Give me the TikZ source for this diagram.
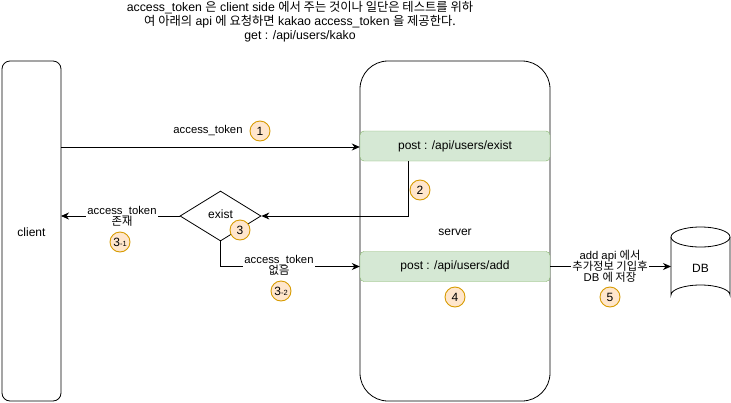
\documentclass[tikz,border=0pt]{standalone}
\usepackage{fontspec}
\setmainfont{Liberation Sans}
\newfontfamily\kr{Noto Sans CJK KR}
\usetikzlibrary{shapes.geometric,arrows.meta}
\definecolor{greenfill}{HTML}{D5E8D4}
\definecolor{greenline}{HTML}{82B366}
\definecolor{stepfill}{HTML}{FFE6CC}
\definecolor{stepline}{HTML}{D79B00}
\tikzset{
  lbl/.style={font=\fontsize{11.3}{12.5}\selectfont, align=center, inner sep=1pt},
  big/.style={font=\fontsize{12}{14}\selectfont},
  bg/.style={fill=white},
  api/.style={draw=greenline, fill=greenfill, rounded corners=4pt, minimum width=190pt, minimum height=30pt, font=\fontsize{12}{14}\selectfont, inner sep=0pt},
  stepno/.style={circle, draw=stepline, fill=stepfill, line width=0.9pt, minimum size=20pt, inner sep=0pt, font=\fontsize{12}{14}\selectfont},
  flow/.style={line width=0.8pt, -{Stealth[length=8pt,width=7pt]}},
}
\begin{document}
\begin{tikzpicture}[x=1pt,y=-1pt]
\useasboundingbox (0,0) rectangle (731,402);

% header note
\node[lbl, font=\fontsize{12.3}{14}\selectfont] (note) at (300,21.5)
  {access\_token {\kr 은} client side {\kr 에서 주는 것이나 일단은 테스트를 위하}\\
   {\kr 여 아래의} api {\kr 에 요청하면} kakao access\_token {\kr 을 제공한다.}\\
   get : /api/users/kako};

% participants
\draw[line width=0.8pt, rounded corners=8pt] (2,61) rectangle (61,401);
\node[lbl, big] (client) at (31.5,232) {client};
\coordinate (clientR1) at (61,147);
\coordinate (clientR2) at (61,216);

\draw[line width=0.8pt, rounded corners=28pt] (360,61) rectangle (550,401);
\node[lbl, big] (server) at (455,232) {server};

\node[api] (exist) at (455,146) {post : /api/users/exist};
\node[api] (add) at (455,266.5) {post : /api/users/add};

\node[diamond, draw, line width=0.8pt, minimum width=81pt, minimum height=50pt, inner sep=0pt, aspect=1.6] (dec) at (220.5,216) {};
\node[lbl, big] (dectext) at (220.5,214) {exist};

% database
\draw[line width=0.8pt] (671,237) -- (671,295) arc[start angle=180, end angle=360, x radius=29.5, y radius=10] -- (730,237);
\draw[line width=0.8pt] (700.5,237) ellipse[x radius=29.5, y radius=10];
\node[lbl, big] (db) at (700.5,268) {DB};
\coordinate (dbL) at (671,266.5);

% connectors
\draw[flow] (clientR1) -- (exist.west |- clientR1);
\draw[flow] ([xshift=-47pt]exist.south) |- (dec.east);
\draw[flow] (dec.west) -- (clientR2);
\draw[flow] (dec.south) |- (add.west);
\draw[flow] (add.east) -- (dbL);

% connector labels
\node[lbl] (l1) at (208,131) {access\_token};
\node[lbl, bg] (l31) at (122,216) {access\_token\\[-1.5pt]{\kr 존재}};
\node[lbl, bg] (l32) at (279,265.5) {access\_token\\[-1.5pt]{\kr 없음}};
\node[lbl, bg] (l5) at (610,266.5) {add api {\kr 에서}\\[-1.5pt]{\kr 추가정보 기입후}\\[-1.5pt]DB {\kr 에 저장}};

% step markers
\node[stepno] (s1) at (260,131) {1};
\node[stepno] (s2) at (420,190) {2};
\node[stepno] (s3) at (240,230) {3};
\node[stepno] (s31) at (120,242) {3{\fontsize{7.5}{8}\selectfont -1}};
\node[stepno] (s32) at (281,291) {3{\fontsize{7.5}{8}\selectfont -2}};
\node[stepno] (s4) at (455,297) {4};
\node[stepno] (s5) at (610,297) {5};
\end{tikzpicture}
\end{document}
